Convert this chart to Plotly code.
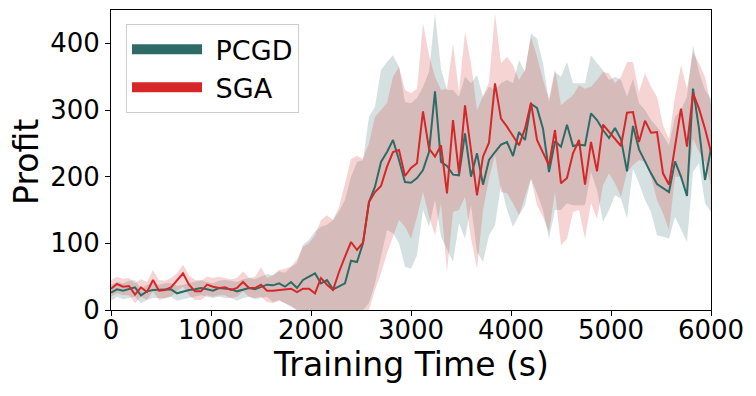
import plotly.graph_objects as go

# Training time grid (s)
time_s = [0, 60, 120, 180, 240, 300, 360, 420, 480, 540,
          600, 660, 720, 780, 840, 900, 960, 1020, 1080, 1140,
          1200, 1260, 1320, 1380, 1440, 1500, 1560, 1620, 1680, 1740,
          1800, 1860, 1920, 1980, 2040, 2100, 2160, 2220, 2280, 2340,
          2400, 2460, 2520, 2580, 2640, 2700, 2760, 2820, 2880, 2940,
          3000, 3060, 3120, 3180, 3240, 3300, 3360, 3420, 3480, 3540,
          3600, 3660, 3720, 3780, 3840, 3900, 3960, 4020, 4080, 4140,
          4200, 4260, 4320, 4380, 4440, 4500, 4560, 4620, 4680, 4740,
          4800, 4860, 4920, 4980, 5040, 5100, 5160, 5220, 5280, 5340,
          5400, 5460, 5520, 5580, 5640, 5700, 5760, 5820, 5880, 5940,
          6000]

# PCGD mean profit and band
pcgd_profit = [26, 31, 29, 32, 34, 22, 28, 30, 30, 30,
               31, 25, 28, 30, 31, 33, 31, 29, 33, 32,
               31, 28, 31, 33, 31, 35, 38, 37, 40, 35,
               42, 33, 45, 50, 55, 40, 45, 31, 35, 40,
               74, 72, 100, 162, 185, 222, 237, 255, 225, 192,
               191, 198, 210, 237, 328, 222, 216, 203, 202, 265,
               200, 235, 188, 225, 237, 248, 252, 231, 267, 255,
               309, 303, 272, 207, 253, 245, 278, 246, 248, 247,
               295, 285, 270, 258, 273, 256, 208, 276, 241, 222,
               205, 189, 183, 177, 223, 200, 171, 332, 272, 195,
               242]
pcgd_low = [14, 20, 16, 18, 20, 10, 15, 18, 18, 18, 20, 14, 16, 18, 20, 22, 20, 18,
            20, 18, 18, 14, 18, 20, 16, 18, 20, 12, 15, 10, 5, 0, -5,
            -10, -15, -20, -20, -20, -20, -20, -10, -5, 0, 10, 40, 80, 120, 115, 100,
            65, 62, 82, 150, 125, 165, 110, 90, 72, 130, 107, 157, 87, 72, 112, 127, 187, 150,
            125, 142, 157, 197, 175, 150, 107, 150, 150, 160, 157, 157, 157, 207, 180, 132, 150,
            172, 167, 137, 212, 190, 165, 147, 112, 110, 107, 140, 120, 102, 207, 220, 160, 147]
pcgd_high = [38, 42, 40, 44, 45, 32, 38, 40, 38, 40, 40, 36, 38, 40, 42, 45, 42, 40,
             44, 45, 44, 42, 46, 48, 46, 50, 54, 52, 58, 56, 65, 70, 98,
             105, 118, 125, 128, 135, 148, 165, 200, 222, 225, 290, 305, 360, 372, 382, 365,
             312, 310, 318, 335, 357, 445, 362, 330, 330, 320, 350, 340, 352, 320, 335, 330, 340, 345,
             340, 375, 357, 415, 407, 370, 312, 357, 350, 372, 340, 340, 340, 382, 370, 360, 345,
             350, 345, 320, 347, 310, 300, 285, 275, 262, 247, 290, 300, 320, 397, 357, 330, 317]

# SGA mean profit and band
sga_profit = [32, 39, 35, 36, 23, 34, 27, 45, 29, 30,
              34, 44, 55, 38, 28, 28, 38, 35, 33, 34,
              30, 33, 42, 33, 33, 38, 29, 29, 30, 31,
              32, 27, 32, 32, 25, 48, 38, 30, 57, 80,
              102, 90, 101, 162, 177, 186, 215, 237, 240, 201,
              213, 220, 298, 242, 230, 247, 175, 285, 205, 307,
              235, 172, 230, 251, 340, 287, 275, 260, 247, 272,
              311, 255, 237, 217, 270, 190, 198, 235, 255, 188,
              252, 208, 278, 267, 257, 246, 296, 297, 252, 284,
              266, 267, 205, 188, 245, 302, 245, 325, 302, 272,
              237]
sga_low = [20, 25, 22, 22, 10, 20, 15, 28, 15, 18, 20, 28, 35, 22, 15, 15, 22, 20,
           22, 22, 18, 20, 28, 20, 18, 20, 12, 10, 14, 10, 6, 0, -5,
           -10, -15, -20, -25, -25, -25, -25, -20, -10, -5, 0, 30, 55, 85, 110, 135,
           125, 107, 140, 177, 140, 112, 160, 57, 147, 150, 170, 107, 62, 150, 197, 232, 177, 175,
           160, 142, 170, 197, 157, 140, 117, 177, 97, 107, 147, 150, 107, 160, 137, 187, 205,
           190, 170, 207, 217, 225, 222, 200, 165, 145, 120, 200, 200, 172, 257, 237, 222, 187]
sga_high = [45, 50, 47, 48, 40, 46, 42, 60, 45, 44, 48, 55, 68, 52, 45, 44, 50, 48,
            50, 48, 46, 48, 58, 48, 50, 64, 48, 52, 60, 62, 65, 76, 95,
            100, 112, 135, 142, 135, 155, 190, 227, 231, 227, 250, 290, 300, 310, 350, 365,
            330, 325, 332, 430, 382, 350, 330, 332, 400, 327, 417, 370, 300, 320, 342, 445, 370, 380,
            367, 345, 360, 410, 380, 345, 317, 362, 307, 315, 322, 337, 332, 335, 345, 357, 355,
            340, 350, 372, 372, 327, 355, 335, 320, 277, 257, 320, 367, 332, 387, 370, 350, 307]

TEAL = '#2e6b66'
RED = '#d62728'
FONT = 'DejaVu Sans'

fig = go.Figure()

# bandas (std)
for low, high, fillc in [(pcgd_low, pcgd_high, 'rgba(46,107,102,0.2)'),
                         (sga_low, sga_high, 'rgba(214,39,40,0.2)')]:
    fig.add_trace(go.Scatter(x=time_s, y=low, mode='lines', line=dict(width=0),
                             showlegend=False, hoverinfo='skip'))
    fig.add_trace(go.Scatter(x=time_s, y=high, mode='lines', line=dict(width=0),
                             fill='tonexty', fillcolor=fillc,
                             showlegend=False, hoverinfo='skip'))

# linhas médias
fig.add_trace(go.Scatter(x=time_s, y=pcgd_profit, mode='lines',
                         line=dict(color=TEAL, width=2), showlegend=False))
fig.add_trace(go.Scatter(x=time_s, y=sga_profit, mode='lines',
                         line=dict(color=RED, width=2), showlegend=False))

# entradas da legenda (linhas grossas)
fig.add_trace(go.Scatter(x=[None], y=[None], mode='lines', name='\u00a0PCGD',
                         line=dict(color=TEAL, width=11)))
fig.add_trace(go.Scatter(x=[None], y=[None], mode='lines', name='\u00a0SGA',
                         line=dict(color=RED, width=11)))

axis_style = dict(showgrid=False, zeroline=False, showline=True, linecolor='black',
                  linewidth=1, mirror=True, ticks='outside', ticklen=5,
                  tickcolor='black', automargin=False,
                  tickfont=dict(family=FONT, size=26, color='black'))

fig.update_xaxes(range=[0, 6000], dtick=1000, tick0=0, ticklabelstandoff=-8, **axis_style)
fig.update_yaxes(range=[0, 450], dtick=100, tick0=0, **axis_style)

# títulos dos eixos
fig.add_annotation(text='Training Time (s)', xref='paper', yref='paper', x=0.5, y=-0.183,
                   xanchor='center', yanchor='middle', showarrow=False,
                   font=dict(family=FONT, size=33, color='black'))
fig.add_annotation(text='Profit', xref='paper', yref='paper', x=-0.142, y=0.493,
                   xanchor='center', yanchor='middle', showarrow=False, textangle=-90,
                   font=dict(family=FONT, size=33, color='black'))

fig.update_layout(
    width=756, height=396,
    margin=dict(l=111, r=45, t=10, b=86),
    plot_bgcolor='white', paper_bgcolor='white',
    font=dict(family=FONT, color='black'),
    legend=dict(x=0.025, y=0.953, xanchor='left', yanchor='top', traceorder='normal',
                bgcolor='rgba(255,255,255,0.8)', bordercolor='#cccccc', borderwidth=1,
                font=dict(family=FONT, size=27, color='black'),
                itemwidth=70),
)

fig.write_html('out.html', config={'displayModeBar': False},
               post_script="document.body.style.margin='0';")
